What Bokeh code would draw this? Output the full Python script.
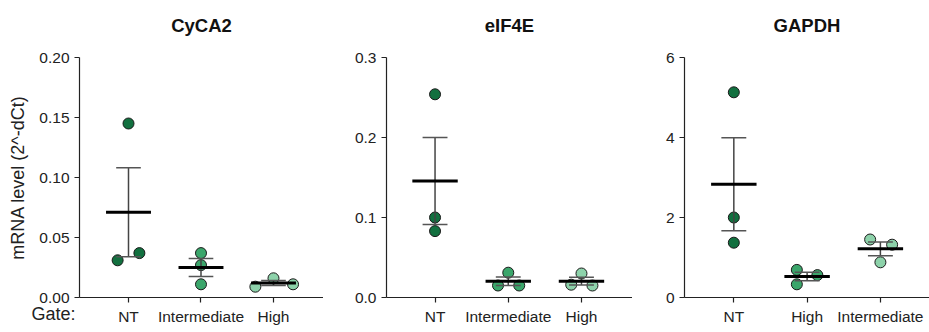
import numpy as np
from bokeh.plotting import figure
from bokeh.layouts import row
from bokeh.models import Range1d, FixedTicker, Label, NumeralTickFormatter
from bokeh.embed import file_html
from bokeh.resources import INLINE

# mRNA level (2^-dCt) per gate, three replicates each
cyca2_gates = ["NT", "Intermediate", "High"]
cyca2_nt = [0.145, 0.031, 0.037]
cyca2_int = [0.037, 0.027, 0.011]
cyca2_high = [0.009, 0.016, 0.011]

eif4e_gates = ["NT", "Intermediate", "High"]
eif4e_nt = [0.254, 0.100, 0.083]
eif4e_int = [0.031, 0.015, 0.015]
eif4e_high = [0.030, 0.016, 0.015]

gapdh_gates = ["NT", "High", "Intermediate"]
gapdh_nt = [5.13, 2.00, 1.37]
gapdh_high = [0.69, 0.56, 0.33]
gapdh_int = [1.45, 1.32, 0.88]

cyca2_yticks = [0.0, 0.05, 0.10, 0.15, 0.20]
eif4e_yticks = [0.0, 0.1, 0.2, 0.3]
gapdh_yticks = [0, 2, 4, 6]

# horizontal spread of replicate dots (category units)
cyca2_spread = [[0, -0.15, 0.15], [0, 0, 0], [-0.25, 0, 0.27]]
eif4e_spread = [[0, 0, 0], [0, -0.14, 0.15], [0, -0.14, 0.15]]
gapdh_spread = [[0, 0, 0], [-0.14, 0.14, -0.14], [-0.14, 0.16, 0]]

COLORS = ["#12703f", "#3ba66b", "#8dd2aa"]
FONT = "Liberation Sans"
TOP = 57


def panel(title, gates, groups, spread, yticks, fmt, xr, width, left, bottom, ylabel=None, gate_label=False):
    p = figure(width=width, height=332, output_backend="svg", toolbar_location=None,
               x_range=Range1d(*xr), y_range=Range1d(yticks[0], yticks[-1]),
               min_border_left=left, min_border_right=0, min_border_top=TOP,
               min_border_bottom=bottom)
    p.outline_line_color = None
    p.grid.visible = False
    p.background_fill_color = "white"
    p.border_fill_color = "white"

    frame_w = width - left
    # labels live in the top side panel, so they are not clipped to the frame
    p.add_layout(Label(x=frame_w / 2, y=32, x_units="screen", y_units="screen", text=title,
                       text_align="center", text_baseline="middle", text_font=FONT,
                       text_font_size="18.5px", text_font_style="bold",
                       text_color="#111111"), "above")
    if gate_label:
        p.add_layout(Label(x=-4, y=-277, x_units="screen", y_units="screen", text="Gate:",
                           text_align="right", text_baseline="middle", text_font=FONT,
                           text_font_size="18px", text_color="#222222"), "above")

    for i, vals in enumerate(groups):
        vals = np.array(vals, dtype=float)
        xs = [i + d for d in spread[i]]
        m = vals.mean()
        sem = vals.std(ddof=1) / np.sqrt(len(vals))
        p.scatter(xs, list(vals), size=11, fill_color=COLORS[i], line_color="#1a1a1a", line_width=1)
        # SEM whisker and caps
        p.segment([i], [m - sem], [i], [m + sem], line_color="#444444", line_width=1.5)
        p.segment([i - 0.17, i - 0.17], [m - sem, m + sem], [i + 0.17, i + 0.17], [m - sem, m + sem],
                  line_color="#555555", line_width=1.5)
        # mean
        p.segment([i - 0.31], [m], [i + 0.31], [m], line_color="#000000", line_width=3)

    xa = p.xaxis[0]
    xa.ticker = FixedTicker(ticks=[0, 1, 2])
    xa.major_label_overrides = {0: gates[0], 1: gates[1], 2: gates[2]}
    ya = p.yaxis[0]
    ya.ticker = FixedTicker(ticks=yticks)
    ya.formatter = NumeralTickFormatter(format=fmt)
    for ax in (xa, ya):
        ax.minor_tick_line_color = None
        ax.axis_line_color = "#222222"
        ax.major_tick_line_color = "#222222"
        ax.axis_line_width = 1.2
        ax.major_tick_line_width = 1.2
        ax.major_tick_in = 0
        ax.major_tick_out = 5
        ax.major_label_text_font = FONT
        ax.major_label_text_font_size = "15.5px"
        ax.major_label_text_color = "#222222"
    if ylabel:
        ya.axis_label = ylabel
        ya.axis_label_text_font = FONT
        ya.axis_label_text_font_size = "18px"
        ya.axis_label_text_font_style = "normal"
        ya.axis_label_text_color = "#222222"
        ya.axis_label_standoff = 8
    return p


p1 = panel("CyCA2", cyca2_gates, [cyca2_nt, cyca2_int, cyca2_high], cyca2_spread,
           cyca2_yticks, "0.00", (-0.676, 2.69), 323, 79, 35,
           ylabel="mRNA level (2^-dCt)", gate_label=True)
p2 = panel("eIF4E", eif4e_gates, [eif4e_nt, eif4e_int, eif4e_high], eif4e_spread,
           eif4e_yticks, "0.0", (-0.663, 2.697), 309, 63, 33)
p3 = panel("GAPDH", gapdh_gates, [gapdh_nt, gapdh_high, gapdh_int], gapdh_spread,
           gapdh_yticks, "0", (-0.673, 2.67), 297, 52, 33)

layout = row(p1, p2, p3, spacing=0)
open("out.html", "w").write(file_html(layout, INLINE))
